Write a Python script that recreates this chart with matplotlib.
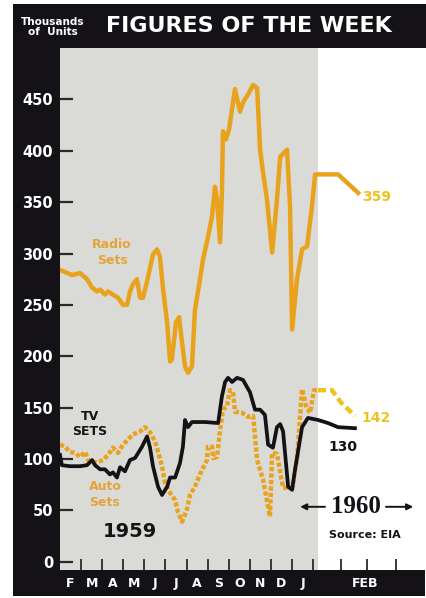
import matplotlib
matplotlib.use("Agg")
import matplotlib.pyplot as plt
from matplotlib.patches import Rectangle

# ---------------- data (x = months after 1 Feb 1959) ----------------
month_labels = ["F", "M", "A", "M", "J", "J", "A", "S", "O", "N", "D", "J"]
feb60_label = "FEB"
y_ticks = [0, 50, 100, 150, 200, 250, 300, 350, 400, 450]
week_ticks_1960 = [13.33, 14.56, 15.94]

radio_x = [0.00, 0.24, 0.57, 0.95, 1.28, 1.52, 1.76, 1.90, 2.13, 2.28, 2.51, 2.75,
           2.99, 3.18, 3.32, 3.46, 3.65, 3.80, 3.94, 4.13, 4.41, 4.60, 4.74, 4.89,
           5.08, 5.22, 5.31, 5.50, 5.65, 5.79, 5.93, 6.07, 6.26, 6.40, 6.64, 6.78,
           7.02, 7.21, 7.35, 7.45, 7.59, 7.68, 7.73, 7.87, 8.02, 8.30, 8.44, 8.54,
           8.68, 8.92, 9.16, 9.35, 9.49, 9.63, 9.82, 10.06, 10.29, 10.44, 10.77,
           10.91, 11.01, 11.24, 11.48, 11.72, 11.95, 12.10, 13.19, 14.14]
radio_v = [284, 282, 279, 281, 275, 267, 263, 265, 260, 263, 260, 257,
           250, 250, 263, 270, 275, 257, 257, 273, 299, 304, 297, 265,
           233, 195, 197, 233, 238, 213, 190, 184, 190, 245, 275, 294,
           316, 336, 365, 352, 311, 359, 419, 411, 421, 460, 447, 438,
           447, 455, 464, 461, 401, 379, 352, 301, 352, 394, 401,
           346, 226, 275, 304, 307, 346, 377, 377, 359]

tv_x = [0.00, 0.09, 0.47, 0.95, 1.28, 1.52, 1.66, 1.90, 2.13, 2.37, 2.51, 2.70,
        2.85, 3.08, 3.32, 3.56, 3.89, 4.13, 4.27, 4.41, 4.65, 4.84, 5.08, 5.22,
        5.46, 5.69, 5.83, 5.93, 6.07, 6.26, 6.88, 7.50, 7.68, 7.83, 7.97, 8.16,
        8.40, 8.68, 9.01, 9.25, 9.49, 9.72, 9.87, 10.10, 10.29, 10.44, 10.58,
        10.82, 11.01, 11.15, 11.48, 11.76, 12.24, 12.71, 13.19, 13.99]
tv_v = [104, 94, 93, 93, 94, 99, 94, 90, 90, 85, 87, 82,
        92, 88, 99, 101, 112, 122, 111, 93, 73, 65, 73, 82,
        82, 96, 112, 138, 131, 136, 136, 135, 161, 175, 179, 175,
        179, 177, 165, 148, 148, 143, 114, 111, 131, 134, 127,
        73, 70, 90, 131, 140, 138, 135, 131, 130]

auto_x = [0.00, 0.24, 0.47, 0.71, 0.95, 1.19, 1.33, 1.57, 1.80, 2.04, 2.28, 2.51,
          2.75, 2.99, 3.23, 3.46, 3.80, 4.03, 4.27, 4.51, 4.65, 4.84, 4.98, 5.22,
          5.46, 5.60, 5.79, 6.02, 6.17, 6.40, 6.64, 6.97, 7.02, 7.21, 7.26, 7.45,
          7.59, 7.73, 7.92, 8.06, 8.21, 8.30, 8.63, 8.92, 9.16, 9.35, 9.63, 9.96,
          10.06, 10.29, 10.58, 11.01, 11.24, 11.48, 11.67, 11.86, 12.05, 12.24]
auto_v = [114, 112, 107, 106, 102, 107, 99, 97, 97, 99, 104, 111,
          106, 114, 119, 124, 127, 131, 126, 117, 107, 93, 77, 67,
          60, 48, 39, 51, 65, 73, 85, 99, 112, 112, 101, 102,
          128, 148, 151, 167, 165, 146, 145, 141, 142, 99, 80, 44,
          106, 105, 72, 72, 100, 168, 152, 145, 167, 167]
auto60_x = [12.24, 12.90, 13.33, 13.99]
auto60_v = [167, 167, 155, 142]

# ---------------- styling ----------------
W, H = 427, 598
ORANGE = "#E8A21C"
YELLOW = "#EEC21E"
LABEL_OR = "#E6A33C"
GRAY = "#DADBD7"
INK = "#141216"

plt.rcParams["font.family"] = ["DejaVu Sans"]

fig = plt.figure(figsize=(W / 100, H / 100), dpi=100)
fig.patch.set_facecolor("white")


def frect(x0, y0, x1, y1, color):
    fig.add_artist(Rectangle((x0 / W, 1 - y1 / H), (x1 - x0) / W, (y1 - y0) / H,
                             transform=fig.transFigure, color=color, zorder=0, lw=0))


frect(13, 4, 427, 48, INK)      # top banner
frect(13, 4, 60, 596, INK)      # left band
frect(13, 570, 425, 596, INK)   # bottom band

ax = fig.add_axes([60 / W, 28 / H, 358 / W, 522 / H])
ax.set_facecolor("white")
ax.set_xlim(0, 16.98)
ax.set_ylim(-8, 500)
ax.axvspan(0, 12.24, color=GRAY, zorder=0, lw=0)
for s in ax.spines.values():
    s.set_visible(False)

# series
ax.plot(auto_x, auto_v, color=ORANGE, lw=3.2, ls=(0, (0.95, 0.5)),
        dash_capstyle="butt", solid_joinstyle="round", zorder=2)
ax.plot(auto60_x, auto60_v, color=YELLOW, lw=3.2, ls=(0, (1.8, 0.9)),
        dash_capstyle="butt", zorder=2)
ax.plot(tv_x, tv_v, color=INK, lw=2.7, solid_joinstyle="round", zorder=3)
ax.plot(radio_x, radio_v, color=ORANGE, lw=3.2, solid_joinstyle="round", zorder=4)

# y axis
ax.set_yticks(y_ticks)
ax.set_yticklabels([str(v) for v in y_ticks], fontweight="bold")
ax.tick_params(axis="y", direction="in", length=9.5, width=1.6, color="#2a2a2a",
               pad=5, labelcolor="white", labelsize=10.5)

# x axis
major = list(range(1, 13)) + week_ticks_1960
ax.set_xticks(major)
ax.set_xticklabels([])
minor_pos = [i + 0.5 for i in range(12)] + [14.47]
ax.set_xticks(minor_pos, minor=True)
ax.set_xticklabels(month_labels + [feb60_label], minor=True, fontweight="bold")
ax.tick_params(axis="x", which="major", direction="in", length=8, width=1.3,
               color="#2a2a2a")
ax.tick_params(axis="x", which="minor", length=0, pad=5, labelcolor="white",
               labelsize=9)

# annotations
ax.text(2.47, 301, "Radio\nSets", color=LABEL_OR, fontsize=9, fontweight="bold",
        ha="center", va="center", linespacing=1.3)
ax.text(1.42, 134, "TV\nSETS", color=INK, fontsize=9, fontweight="bold",
        ha="center", va="center", linespacing=1.2)
ax.text(2.13, 65, "Auto\nSets", color=LABEL_OR, fontsize=9, fontweight="bold",
        ha="center", va="center", linespacing=1.3)
ax.text(3.32, 29, "1959", color=INK, fontsize=14, fontweight="bold",
        ha="center", va="center")
ax.text(14.33, 355, "359", color=YELLOW, fontsize=10, fontweight="bold",
        ha="left", va="center")
ax.text(14.28, 140, "142", color=YELLOW, fontsize=10, fontweight="bold",
        ha="left", va="center")
ax.text(12.71, 112, "130", color=INK, fontsize=10, fontweight="bold",
        ha="left", va="center")
ax.text(14.04, 53.5, "1960", color=INK, fontsize=18, fontweight="bold",
        family="Liberation Serif", ha="center", va="center")
ax.annotate("", xy=(11.39, 53.5), xytext=(12.57, 53.5),
            arrowprops=dict(arrowstyle="-|>", color=INK, lw=1.4,
                            mutation_scale=9, shrinkA=0, shrinkB=0))
ax.annotate("", xy=(16.75, 53.5), xytext=(15.46, 53.5),
            arrowprops=dict(arrowstyle="-|>", color=INK, lw=1.4,
                            mutation_scale=9, shrinkA=0, shrinkB=0))
ax.text(12.76, 26, "Source: EIA", color=INK, fontsize=8, fontweight="bold",
        ha="left", va="center")

# header texts
fig.text(249 / W, 1 - 26 / H, "FIGURES OF THE WEEK", color="white", fontsize=16,
         fontweight="bold", ha="center", va="center")
fig.text(53 / W, 1 - 27 / H, "Thousands\nof  Units", color="white", fontsize=7.5,
         fontweight="bold", ha="center", va="center", linespacing=1.1)

fig.savefig("out.png", dpi=100)
